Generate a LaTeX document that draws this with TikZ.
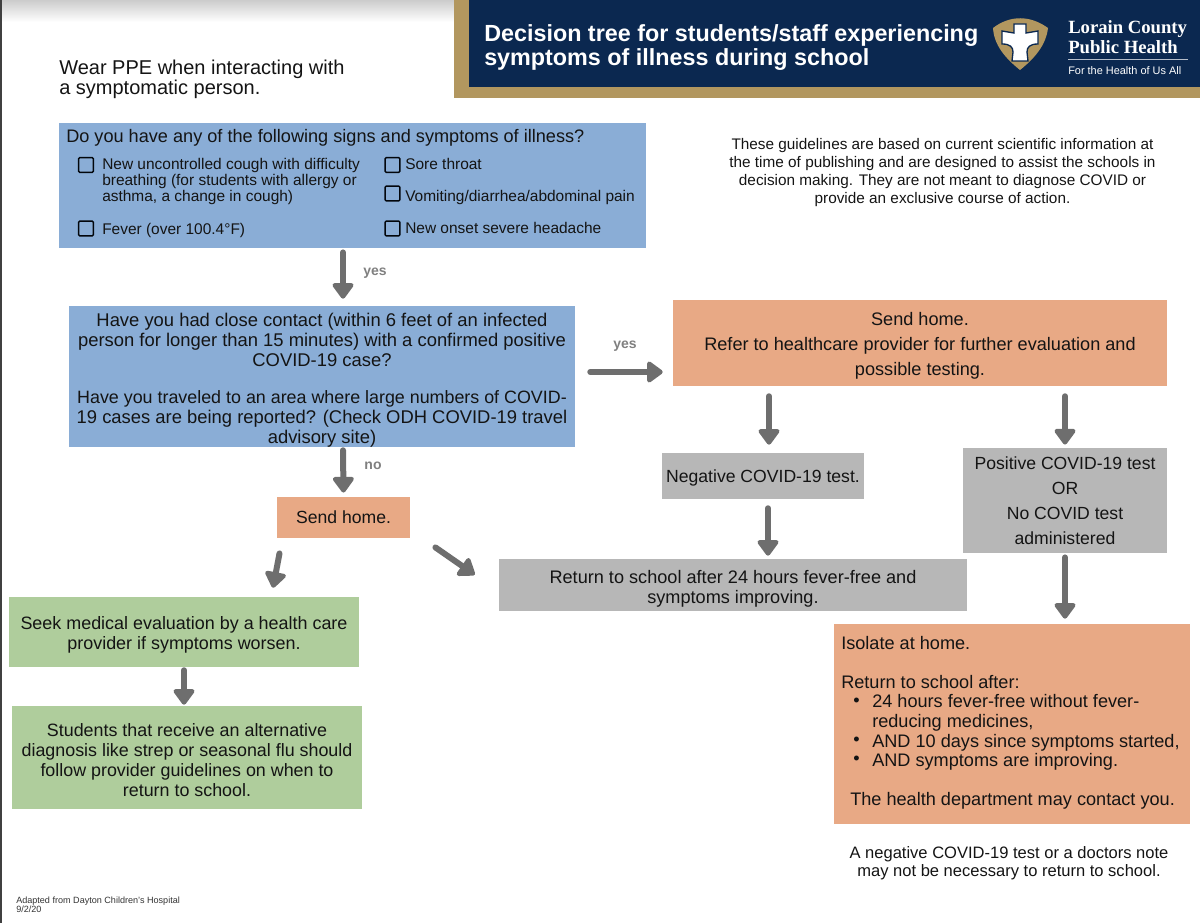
\documentclass[tikz,border=0pt]{standalone}
\usepackage{fontspec}
\setmainfont{Liberation Sans}
\newfontfamily\logofont{Liberation Serif}
\usetikzlibrary{arrows.meta}
\definecolor{navy}{HTML}{0B2850}
\definecolor{gold}{HTML}{B2975F}
\definecolor{askblue}{HTML}{8AADD6}
\definecolor{homeorange}{HTML}{E8A985}
\definecolor{testgray}{HTML}{B7B7B7}
\definecolor{caregreen}{HTML}{AFCD9C}
\definecolor{arrowgray}{HTML}{6E6E6E}
\definecolor{inkblack}{HTML}{141414}
\newcommand{\toppad}[1]{\rule{0pt}{#1}}

\tikzset{
  sized/.style={font=\fontsize{#1}{15}\selectfont},
  mainfont/.style={sized=13.6, text=inkblack},
  itemfont/.style={font=\fontsize{11.6}{12}\selectfont, text=inkblack},
  box/.style={mainfont, align=center, inner sep=0pt},
  askbox/.style={box, fill=askblue},
  homebox/.style={box, fill=homeorange},
  testbox/.style={box, fill=testgray},
  carebox/.style={box, fill=caregreen},
  flow/.style={arrowgray, line width=4.5pt, line cap=round,
    -{Triangle[round,length=13pt,width=18pt]}},
  answer/.style={font=\fontsize{10.5}{12}\selectfont\bfseries, text=gray},
  checkbox/.style={draw=black!85!navy, line width=1.1pt, rounded corners=0.8pt,
    minimum size=11pt, inner sep=0pt},
  leftline/.style={mainfont, anchor=west, inner sep=0pt},
  itemline/.style={itemfont, anchor=west, inner sep=0pt, align=left}
}

\begin{document}
\begin{tikzpicture}[x=0.75pt,y=-0.75pt]

  \useasboundingbox (0,0) rectangle (1200,923);

  % page edge and banner
  \shade [top color=black!20, bottom color=white] (0,0) rectangle (454,22);
  \fill [black!75] (0,0) rectangle (1.5,923);
  \fill [gold] (454,0) rectangle (1200,98);
  \fill [navy] (469,0) rectangle (1200,87);

  \node (title) [anchor=west, align=left, text=white, inner sep=0pt,
    font=\fontsize{17.5}{18}\selectfont\bfseries] at (484,47.5)
    {Decision tree for students/staff experiencing\\symptoms of illness during school};

  % logo
  \fill [gold] (1020,70) .. controls (1005,58) and (994,45) .. (993,28)
    .. controls (1010,15) and (1030,15) .. (1048,28)
    .. controls (1046,45) and (1035,58) .. (1020,70) -- cycle;
  \fill [white, draw=navy, line width=1pt] (1014,24) -- (1026,24) -- (1026,33)
    -- (1038,31) -- (1038,44) .. controls (1030,44) and (1027,47) .. (1027,52)
    -- (1028,61) -- (1012,61) -- (1013,52) .. controls (1013,47) and (1010,44) .. (1002,44)
    -- (1002,31) -- (1014,33) -- cycle;

  \node (lorain) [anchor=west, align=left, text=white, inner sep=0pt,
    font=\logofont\fontsize{14}{14.5}\selectfont\bfseries] at (1068,37)
    {Lorain County\\Public Health};
  \draw [white!70!navy, line width=0.6pt] (1068,59) -- (1188,59);
  \node (motto) [anchor=west, text=white, inner sep=0pt,
    font=\fontsize{8.2}{10}\selectfont] at (1068,71) {For the Health of Us All};

  \node (ppe) [anchor=west, align=left, inner sep=0pt,
    font=\fontsize{15}{15.5}\selectfont, text=inkblack] at (59,79.5)
    {Wear PPE when interacting with\\a symptomatic person.};

  \node (note) [align=center, inner sep=0pt, text=inkblack,
    font=\fontsize{11.5}{13.5}\selectfont] at (942.5,173)
    {These guidelines are based on current scientific information at\\
     the time of publishing and are designed to assist the schools in\\
     decision making.  They are not meant to diagnose COVID or\\
     provide an exclusive course of action.};

  % boxes
  \node (signs) [askbox, minimum width=440pt, minimum height=94pt] at (352.5,185.5) {};
  \node (contact) [askbox, sized=13.8, minimum width=379.5pt, minimum height=105.75pt] at (322,376.5)
    {\toppad{15pt}Have you had close contact (within 6 feet of an infected\\
     person for longer than 15 minutes) with a confirmed positive\\
     COVID-19 case?\\[12.75pt]
     \fontsize{13.4}{15}\selectfont
     Have you traveled to an area where large numbers of COVID-\\
     19 cases are being reported?  (Check ODH COVID-19 travel\\
     advisory site)};
  \node (refer) [homebox, minimum width=370.5pt, minimum height=64.5pt] at (920,343)
    {\toppad{13.5pt}Send home.\\[3.75pt]
     Refer to healthcare provider for further evaluation and\\[3.75pt]
     possible testing.};
  \node (sendhome) [homebox, sized=13.2, minimum width=100pt, minimum height=31pt] at (343.5,517.5) {Send home.};
  \node (negative) [testbox, sized=13.2, minimum width=151.5pt, minimum height=34.5pt] at (763,476) {\toppad{13pt}Negative COVID-19 test.};
  \node (positive) [testbox, sized=13.2, minimum width=153pt, minimum height=79pt] at (1065,500.5)
    {Positive COVID-19 test\\[3.75pt]OR\\[3.75pt]No COVID test\\[3.75pt]administered};
  \node (return) [testbox, minimum width=351pt, minimum height=39pt] at (733,585)
    {\toppad{15pt}Return to school after 24 hours fever-free and\\symptoms improving.};
  \node (seek) [carebox, sized=13.45, minimum width=262.5pt, minimum height=52.5pt] at (184,632)
    {\toppad{13.5pt}Seek medical evaluation by a health care\\provider if symptoms worsen.};
  \node (alternative) [carebox, sized=13.4, minimum width=262.5pt, minimum height=77.25pt] at (187,757.5)
    {\toppad{13.5pt}Students that receive an alternative\\
     diagnosis like strep or seasonal flu should\\
     follow provider guidelines on when to\\
     return to school.};
  \node (isolate) [homebox, minimum width=267pt, minimum height=150pt] at (1012,724) {};

  % first box, checklist
  \node (signshead) [leftline] at (66,138) {Do you have any of the following signs and symptoms of illness?};
  \node (boxcough) [checkbox] at (86,165) {};
  \node (boxfever) [checkbox] at (86,228.5) {};
  \node (boxthroat) [checkbox] at (392.5,165) {};
  \node (boxvomit) [checkbox] at (392.5,193.5) {};
  \node (boxheadache) [checkbox] at (392.5,228.5) {};
  \node (cough) [itemline] at (102,182)
    {New uncontrolled cough with difficulty\\
     breathing (for students with allergy or\\
     asthma, a change in cough)};
  \node (fever) [itemline] at (102,230) {Fever (over 100.4°F)};
  \node (throat) [itemline] at (405,164) {Sore throat};
  \node (vomit) [itemline] at (405,198) {Vomiting/diarrhea/abdominal pain};
  \node (headache) [itemline] at (405,228) {New onset severe headache};

  % isolate box text
  \node (isohead) [leftline] at (841,643) {Isolate at home.};
  \node (isoback) [leftline] at (841,682) {Return to school after:};
  \node (bulletone) [leftline] at (853,702) {•};
  \node (bullettwo) [leftline] at (853,741) {•};
  \node (bulletthree) [leftline] at (853,760) {•};
  \node (isoone) [leftline, align=left] at (872,713)
    {24 hours fever-free without fever-\\reducing medicines,};
  \node (isotwo) [leftline] at (872,743) {AND 10 days since symptoms started,};
  \node (isothree) [leftline] at (872,762) {AND symptoms are improving.};
  \node (isocall) [leftline] at (850,801) {The health department may contact you.};

  \node (closing) [align=center, inner sep=0pt, text=inkblack,
    font=\fontsize{12.4}{13.5}\selectfont] at (1009,863)
    {A negative COVID-19 test or a doctors note\\may not be necessary to return to school.};

  \node (credit) [anchor=west, align=left, inner sep=0pt, text=black!80,
    font=\fontsize{6.8}{6.8}\selectfont] at (16,905)
    {Adapted from Dayton Children's Hospital\\9/2/20};

  % answers
  \node (yesone) [answer] at (375,273) {yes};
  \node (yestwo) [answer] at (625,346) {yes};
  \node (noone) [answer] at (373,466) {no};

  % arrows
  \draw [flow] ([shift={(-9.5,4)}]signs.south) -- ([shift={(21,-7)}]contact.north);
  \draw [flow] ([shift={(21,3)}]contact.south) -- ([shift={(0,-4)}]sendhome.north);
  \draw [flow] ([shift={(15,-4.5)}]contact.east) -- ([shift={(-10,29)}]refer.west);
  \draw [flow] ([shift={(-151,10)}]refer.south) -- ([shift={(6,-8)}]negative.north);
  \draw [flow] ([shift={(145,10)}]refer.south) -- ([shift={(0,-3)}]positive.north);
  \draw [flow] ([shift={(5,9)}]negative.south) -- ([shift={(35,-3)}]return.north);
  \draw [flow] ([shift={(0,4)}]positive.south) -- ([shift={(0,-5)}]isolate.north -| positive);
  \draw [flow] ([shift={(-64,15)}]sendhome.south) -- ([shift={(89,-9)}]seek.north);
  \draw [flow] ([shift={(25,9)}]sendhome.south east) -- ([shift={(-24,16)}]return.north west);
  \draw [flow] ([shift={(0,3)}]seek.south) -- ([shift={(-3,-1)}]alternative.north);

\end{tikzpicture}
\end{document}
